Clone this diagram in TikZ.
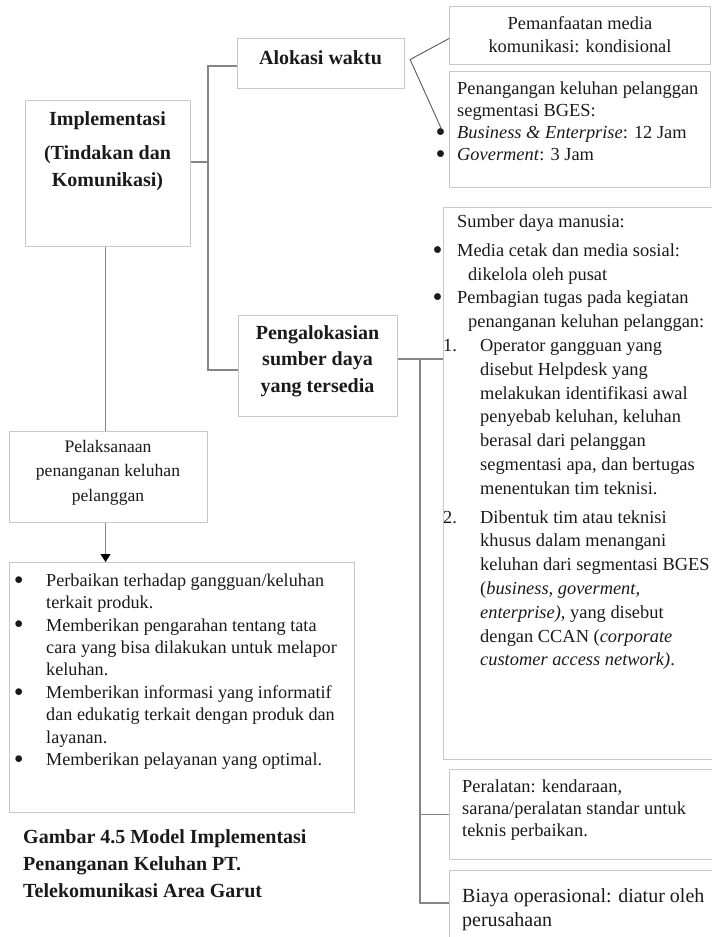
\documentclass[tikz,border=0pt]{standalone}
\usepackage{fontspec}
\setmainfont{Liberation Serif}
\usetikzlibrary{arrows.meta,positioning}
\definecolor{frame}{HTML}{C8C8C8}
\definecolor{wire}{HTML}{858585}
\definecolor{ink}{HTML}{1A1A1A}
\newcommand{\bigbul}{\raisebox{-0.16em}{\scalebox{1.55}{\textbullet}}}

\begin{document}
\begin{tikzpicture}[x=1pt,y=-1pt,
  font=\fontsize{18.4}{23}\selectfont,text=ink,
  bx/.style={draw=frame,line width=1.1pt,anchor=north west,inner sep=0pt},
  tx/.style={anchor=north west,inner sep=0pt,align=left},
  tc/.style={anchor=north,inner sep=0pt,align=center},
  hd/.style={font=\fontsize{20}{26.5}\selectfont\bfseries},
  ln/.style={wire,line width=1.1pt},
  dg/.style={gray!70!black,line width=0.9pt}]
\useasboundingbox (0,0) rectangle (712,937);
\clip (0,0) rectangle (712,937);

% kotak
\node[bx,minimum width=165pt,minimum height=146pt] (impl) at (25,100) {};
\node[bx,minimum width=167pt,minimum height=50pt] (alokasi) at (237,38) {};
\node[bx,minimum width=261pt,minimum height=58pt] (pemanf) at (449,6) {};
\node[bx,minimum width=261pt,minimum height=116pt] (penang) at (449,71) {};
\node[bx,minimum width=159pt,minimum height=101pt] (pengal) at (238,315) {};
\node[bx,minimum width=300pt,minimum height=552pt] (sumber) at (443,207) {};
\node[bx,minimum width=300pt,minimum height=90pt] (peral) at (449,769) {};
\node[bx,minimum width=300pt,minimum height=100pt] (biaya) at (449,870) {};
\node[bx,minimum width=198pt,minimum height=91pt] (pelak) at (9,431) {};
\node[bx,minimum width=345pt,minimum height=250pt] (tindak) at (9,562) {};

% teks
\node[tc,hd] (implT) at (107.5,111) {Implementasi\\[8pt](Tindakan dan\\Komunikasi)};
\node[tc,hd] (alokasiT) at (320.5,50) {Alokasi waktu};
\node[tc] (pemanfT) at (580,16.6) {Pemanfaatan media\\komunikasi: kondisional};
\node[tx,font=\fontsize{18.4}{22}\selectfont] (penangT) at (457,81.5) {Penangangan keluhan pelanggan\\segmentasi BGES:\\
  \llap{\bigbul\hspace{11.5pt}}\textit{Business \& Enterprise}: 12 Jam\\
  \llap{\bigbul\hspace{11.5pt}}\textit{Goverment}: 3 Jam};
\node[tc,hd] (pengalT) at (317.5,325) {Pengalokasian\\sumber daya\\yang tersedia};
\node[tx,font=\fontsize{18.4}{23.8}\selectfont] (sumberT) at (457,214.6) {Sumber daya manusia:\\[5pt]
  \llap{\bigbul\hspace{14.5pt}}Media cetak dan media sosial:\\
  \hspace*{11pt}dikelola oleh pusat\\
  \llap{\bigbul\hspace{14.5pt}}Pembagian tugas pada kegiatan\\
  \hspace*{11pt}penanganan keluhan pelanggan:\\
  \hspace*{-14pt}\makebox[37pt][l]{1.}Operator gangguan yang\\
  \hspace*{23pt}disebut Helpdesk yang\\
  \hspace*{23pt}melakukan identifikasi awal\\
  \hspace*{23pt}penyebab keluhan, keluhan\\
  \hspace*{23pt}berasal dari pelanggan\\
  \hspace*{23pt}segmentasi apa, dan bertugas\\
  \hspace*{23pt}menentukan tim teknisi.\\[5pt]
  \hspace*{-14pt}\makebox[37pt][l]{2.}Dibentuk tim atau teknisi\\
  \hspace*{23pt}khusus dalam menangani\\
  \hspace*{23pt}keluhan dari segmentasi BGES\\
  \hspace*{23pt}(\textit{business, goverment,}\\
  \hspace*{23pt}\textit{enterprise)}, yang disebut\\
  \hspace*{23pt}dengan CCAN (\textit{corporate}\\
  \hspace*{23pt}\textit{customer access network)}.};
\node[tx,font=\fontsize{18.4}{22}\selectfont] (peralT) at (462,779.5) {Peralatan: kendaraan,\\sarana/peralatan standar untuk\\teknis perbaikan.};
\node[tx,font=\fontsize{20}{24}\selectfont] (biayaT) at (462,888) {Biaya operasional: diatur oleh\\perusahaan};
\node[tc,font=\fontsize{17.6}{24.5}\selectfont] (pelakT) at (108,440) {Pelaksanaan\\penanganan keluhan\\pelanggan};
\node[tx,font=\fontsize{18.2}{22.4}\selectfont] (tindakT) at (46,573.4) {%
  \llap{\bigbul\hspace{22.5pt}}Perbaikan terhadap gangguan/keluhan\\terkait produk.\\
  \llap{\bigbul\hspace{22.5pt}}Memberikan pengarahan tentang tata\\cara yang bisa dilakukan untuk melapor\\keluhan.\\
  \llap{\bigbul\hspace{22.5pt}}Memberikan informasi yang informatif\\dan edukatig terkait dengan produk dan\\layanan.\\
  \llap{\bigbul\hspace{22.5pt}}Memberikan pelayanan yang optimal.};
\node[tx,hd,font=\fontsize{20}{27}\selectfont\bfseries] (caption) at (23,829) {Gambar 4.5 Model Implementasi\\Penanganan Keluhan PT.\\Telekomunikasi Area Garut};

% penghubung
\coordinate (jImpl) at (208,162);
\coordinate (jTop) at (208,66);
\coordinate (jBot) at (208,370);
\coordinate (bulBE) at (441,128);
\coordinate (jR) at (420,359);
\coordinate (jEnd) at (420,903);
\draw[ln] (impl.east |- jImpl) -- (jImpl);
\draw[ln] (alokasi.west |- jTop) -- (jTop) -- (jBot) -- (pengal.west |- jBot);
\draw[dg] ([yshift=-3pt]pemanf.west) -- ([xshift=5pt,yshift=4pt]alokasi.east) -- (bulBE);
\draw[ln] (pengal.east |- jR) -- (sumber.west |- jR);
\draw[ln] (jR) -- (jEnd) -- (biaya.west |- jEnd);
\draw[ln] (peral.west) -- (peral.west -| jR);
\draw[ln] ([xshift=-2.5pt]impl.south) -- ([xshift=-2.5pt]impl.south |- pelak.north);
\draw[ln,-{Triangle[length=8pt,width=10pt,color=black]}] ([xshift=-3pt]pelak.south) -- ([xshift=-3pt]pelak.south |- tindak.north);
\end{tikzpicture}
\end{document}
